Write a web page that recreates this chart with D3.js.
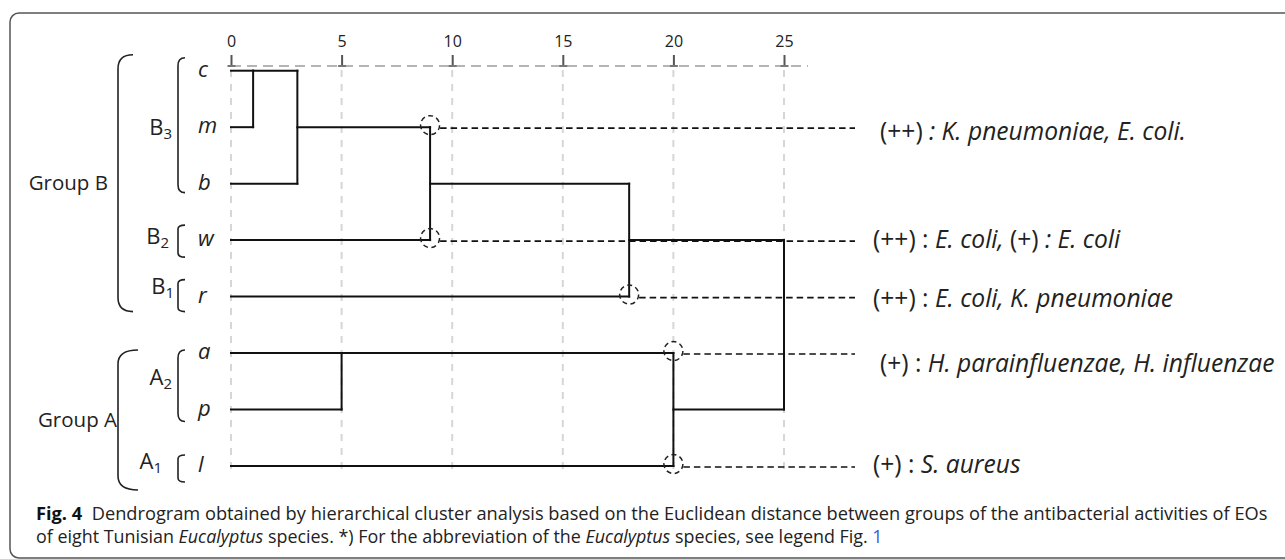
<!DOCTYPE html>
<html>
<head>
<meta charset="utf-8">
<script src="https://cdn.jsdelivr.net/npm/d3@7"></script>
<style>
  html, body { margin: 0; padding: 0; background: #fff; }
  svg { display: block; }
  text { font-family: "Open Sans", "Noto Sans", sans-serif; fill: #222; }
</style>
</head>
<body>
<div id="chart"></div>
<script>
// leaves in display order (top to bottom)
const leaves = ["c", "m", "b", "w", "r", "a", "p", "l"];
const ticks = [0, 5, 10, 15, 20, 25];

// [id, left child, right child, distance, row the joined branch leaves on]
const merges = [
  ["cm", "c", "m", 1, "c"],
  ["cmb", "cm", "b", 3, "m"],
  ["cmbw", "cmb", "w", 9, "b"],
  ["B", "cmbw", "r", 18, "w"],
  ["ap", "a", "p", 5, "a"],
  ["A", "ap", "l", 20, "p"],
  ["root", "B", "A", 25, null],
];

// highlighted junctions: [row, distance]
const marks = [["m", 9], ["w", 9], ["r", 18], ["a", 20], ["l", 20]];

// activity notes, pieces as [text, italic]
const notes = [
  [["(++) ", false], [": K. pneumoniae, E. coli.", true]],
  [["(++) : ", false], ["E. coli, ", true], ["(+)", false], [" : E. coli", true]],
  [["(++) : ", false], ["E. coli, K. pneumoniae", true]],
  [["(+) : ", false], ["H. parainfluenzae, H. influenzae", true]],
  [["(+) : ", false], ["S. aureus", true]],
];

// sub clusters: [letter, index, first leaf, last leaf]
const subGroups = [
  ["B", "3", "c", "b"],
  ["B", "2", "w", "w"],
  ["B", "1", "r", "r"],
  ["A", "2", "a", "p"],
  ["A", "1", "l", "l"],
];
const groups = [["Group B", "c", "r"], ["Group A", "a", "l"]];

const W = 1285, H = 559;

const svg = d3.select("#chart").append("svg")
  .attr("width", W).attr("height", H);

// frame around the figure
svg.append("rect")
  .attr("x", 10).attr("y", 13)
  .attr("width", 1300).attr("height", 545)
  .attr("rx", 9)
  .attr("fill", "none")
  .attr("stroke", "#555")
  .attr("stroke-width", 1.5);

const x = d3.scaleLinear().domain([0, 25]).range([231, 784]);
const y = d3.scalePoint().domain(leaves).range([70.7, 466]);
const axisY = 66;

// light vertical guides
svg.append("g").selectAll("line")
  .data(ticks)
  .join("line")
  .attr("x1", d => x(d)).attr("x2", d => x(d))
  .attr("y1", axisY + 4).attr("y2", y("l") + 6)
  .attr("stroke", "#d6d6d6")
  .attr("stroke-width", 2)
  .attr("stroke-dasharray", "7,7");

// dashed axis line
svg.append("line")
  .attr("x1", x(0)).attr("x2", x(25) + 24)
  .attr("y1", axisY).attr("y2", axisY)
  .attr("stroke", "#b4b4b4")
  .attr("stroke-width", 2)
  .attr("stroke-dasharray", "10,6");

const axis = svg.append("g")
  .attr("transform", `translate(0,${axisY})`)
  .call(d3.axisTop(x).tickValues(ticks).tickSize(11).tickPadding(8));
axis.select(".domain").remove();
axis.selectAll(".tick line").attr("stroke", "#555").attr("stroke-width", 2);
axis.selectAll(".tick").append("line")
  .attr("x1", -4).attr("x2", 4)
  .attr("stroke", "#777").attr("stroke-width", 2);
axis.selectAll(".tick text")
  .attr("font-family", "DejaVu Sans, sans-serif")
  .attr("font-size", 16)
  .attr("fill", "#333");

// build the dendrogram segments
const nodes = {};
leaves.forEach(l => { nodes[l] = { row: l, x: 0 }; });
const segs = [];
merges.forEach(([id, a, b, d, out]) => {
  const na = nodes[a], nb = nodes[b];
  segs.push([na.x, y(na.row), d, y(na.row)]);
  segs.push([nb.x, y(nb.row), d, y(nb.row)]);
  segs.push([d, y(na.row), d, y(nb.row)]);
  nodes[id] = { row: out, x: d };
});

svg.append("g").selectAll("line")
  .data(segs)
  .join("line")
  .attr("x1", d => x(d[0])).attr("y1", d => d[1])
  .attr("x2", d => x(d[2])).attr("y2", d => d[3])
  .attr("stroke", "#111")
  .attr("stroke-width", 2)
  .attr("stroke-linecap", "square");

// dashed circles and leader lines
const lineEnd = 855;
svg.append("g").selectAll("circle")
  .data(marks)
  .join("circle")
  .attr("cx", d => x(d[1]))
  .attr("cy", d => y(d[0]) - 2)
  .attr("r", 9.5)
  .attr("fill", "none")
  .attr("stroke", "#222")
  .attr("stroke-width", 1.5)
  .attr("stroke-dasharray", "5,3.5");

svg.append("g").selectAll("line")
  .data(marks)
  .join("line")
  .attr("x1", d => x(d[1]) + 10).attr("x2", lineEnd)
  .attr("y1", d => y(d[0]) + 1).attr("y2", d => y(d[0]) + 1)
  .attr("stroke", "#111")
  .attr("stroke-width", 1.6)
  .attr("stroke-dasharray", "6.5,4");

// notes on the right
const noteX = [880, 873, 873, 880, 873];
const noteDy = [13, 8, 10, 19, 7];
notes.forEach((parts, i) => {
  const t = svg.append("text")
    .attr("x", noteX[i])
    .attr("y", y(marks[i][0]) + noteDy[i])
    .attr("font-size", 24.6)
    .attr("fill", "#111");
  parts.forEach(([s, it]) => {
    t.append("tspan").attr("font-style", it ? "italic" : "normal").text(s);
  });
});

// leaf labels
svg.append("g").selectAll("text")
  .data(leaves)
  .join("text")
  .attr("x", 198)
  .attr("y", d => y(d) + 6)
  .attr("font-size", 22)
  .attr("font-style", "italic")
  .attr("fill", "#444")
  .text(d => d);

// brackets
function bracket(x0, y0, y1, w, r) {
  return `M${x0 + w},${y0} Q${x0},${y0} ${x0},${y0 + r} L${x0},${y1 - r} Q${x0},${y1} ${x0 + w},${y1}`;
}
const subPad = [[-13, 9], [-15, 17], [-17, 15], [-3, 12], [-11, 16]];
const subLabelX = [172, 169, 174, 172, 162];
const subLabelDy = [8, 4, -3, 4, 3];
subGroups.forEach(([L, n, first, last], i) => {
  const y0 = y(first) + subPad[i][0], y1 = y(last) + subPad[i][1];
  const big = first !== last;
  svg.append("path")
    .attr("d", bracket(178, y0, y1, 7, big ? 8 : 4))
    .attr("fill", "none")
    .attr("stroke", "#222")
    .attr("stroke-width", 1.6);
  const t = svg.append("text")
    .attr("x", subLabelX[i])
    .attr("y", (y(first) + y(last)) / 2 + subLabelDy[i])
    .attr("text-anchor", "end")
    .attr("font-size", 22);
  t.append("tspan").text(L);
  t.append("tspan").attr("font-size", 15).attr("dy", 4).text(n);
});

const groupPad = [[-16, 15], [-3, 24]];
const groupX = [[118, 15], [118, 20]];
const groupLabelEnd = [108, 117];
groups.forEach(([name, first, last], i) => {
  const y0 = y(first) + groupPad[i][0], y1 = y(last) + groupPad[i][1];
  svg.append("path")
    .attr("d", bracket(groupX[i][0], y0, y1, groupX[i][1], 14))
    .attr("fill", "none")
    .attr("stroke", "#222")
    .attr("stroke-width", 1.6);
  svg.append("text")
    .attr("x", groupLabelEnd[i])
    .attr("y", (y0 + y1) / 2 + 7)
    .attr("text-anchor", "end")
    .attr("font-size", 20.5)
    .text(name);
});

// caption
const captionLines = [
  [["Fig. 4", "bold"], ["  Dendrogram obtained by hierarchical cluster analysis based on the Euclidean distance between groups of the antibacterial activities of EOs", ""]],
  [["of eight Tunisian ", ""], ["Eucalyptus", "italic"], [" species. *) For the abbreviation of the ", ""], ["Eucalyptus", "italic"], [" species, see legend Fig. ", ""], ["1", "link"]],
];
const captionRight = [1268, 883];
const captionBase = [520, 543];
captionLines.forEach((parts, i) => {
  const g = svg.append("g");
  const t = g.append("text")
    .attr("x", 0).attr("y", 0)
    .attr("font-size", 18)
    .attr("fill", "#333")
    .attr("xml:space", "preserve")
    .style("white-space", "pre");
  parts.forEach(([s, st]) => {
    const sp = t.append("tspan").text(s);
    if (st === "bold") sp.attr("font-weight", "bold").attr("fill", "#111");
    if (st === "italic") sp.attr("font-style", "italic");
    if (st === "link") sp.attr("fill", "#3b5bdb");
  });
  const w = t.node().getComputedTextLength();
  const k = (captionRight[i] - 36) / w;
  g.attr("transform", `translate(36,${captionBase[i]}) scale(${k},1)`);
});
</script>
</body>
</html>
